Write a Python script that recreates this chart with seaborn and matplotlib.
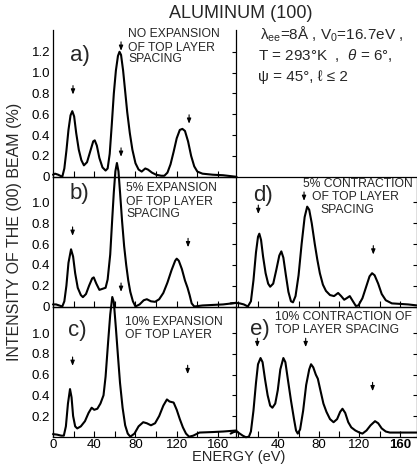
import numpy as np
import matplotlib
matplotlib.use("Agg")
import matplotlib.pyplot as plt
import seaborn as sns

sns.set_style("ticks")
plt.rcParams["font.family"] = ["Liberation Sans", "DejaVu Sans"]
plt.rcParams["mathtext.fontset"] = "custom"
plt.rcParams["mathtext.rm"] = "Liberation Sans"
plt.rcParams["mathtext.it"] = "Liberation Sans:italic"

# ---- (00) beam intensity curves, energy in eV, intensity in % ----
energy_a = [0, 2, 5, 9, 11, 13, 15, 17, 18.7, 20.5, 22.5, 25, 27.5, 30, 33, 36, 39, 40.5,
            42.5, 45, 48, 51, 53, 55, 57, 59, 61, 63, 64.5, 66, 68, 70, 72, 74.5, 77, 80,
            83, 86, 89.5, 92, 96, 100, 105, 108, 111, 114, 117, 120, 123, 125.5, 128, 131,
            134, 137, 140, 145, 155, 165, 178]
intensity_a = [0.02, 0.03, 0.02, 0.0, 0.08, 0.25, 0.45, 0.59, 0.63, 0.58, 0.42, 0.26, 0.16,
               0.11, 0.14, 0.24, 0.34, 0.35, 0.30, 0.18, 0.09, 0.06, 0.08, 0.22, 0.50, 0.80,
               1.02, 1.16, 1.20, 1.17, 1.02, 0.82, 0.62, 0.42, 0.26, 0.13, 0.07, 0.05, 0.08,
               0.07, 0.04, 0.02, 0.01, 0.01, 0.04, 0.12, 0.24, 0.37, 0.45, 0.46, 0.44, 0.34,
               0.20, 0.10, 0.05, 0.03, 0.02, 0.015, 0.0]

energy_b = [0, 3, 6, 9, 11, 13, 15, 17.5, 19.5, 21.5, 24, 27, 29, 32, 35, 38, 39.5, 42, 45,
            48, 51, 53, 55.5, 57.5, 59, 60.5, 62, 63.5, 65, 67, 69, 71, 73, 75, 77.5, 80, 84,
            88, 91, 95, 99, 103, 107, 111, 115, 118.5, 120, 122, 125, 128, 130.5, 132.5,
            134.5, 137, 145, 155, 165, 178]
intensity_b = [0.02, 0.02, 0.01, 0.0, 0.05, 0.20, 0.42, 0.55, 0.48, 0.32, 0.18, 0.11, 0.09,
               0.12, 0.20, 0.27, 0.28, 0.22, 0.16, 0.17, 0.18, 0.26, 0.50, 0.85, 1.10, 1.30,
               1.38, 1.30, 1.10, 0.82, 0.58, 0.40, 0.25, 0.14, 0.05, 0.0, 0.02, 0.06, 0.07,
               0.05, 0.045, 0.07, 0.13, 0.23, 0.35, 0.44, 0.46, 0.44, 0.36, 0.25, 0.18, 0.11,
               0.03, 0.0, 0.01, 0.015, 0.02, 0.035]

energy_c = [0, 4, 8, 10.5, 12.5, 14.5, 16.5, 18, 19.5, 21.5, 23.5, 27, 31, 34.5, 37.5, 40,
            43, 46, 49, 51, 53.5, 55.5, 57.5, 59, 61, 63, 65, 67.5, 70, 72.5, 75, 79, 83,
            87.5, 91, 95, 99, 103, 107, 110.5, 113, 117, 120, 123, 126, 129, 132, 136, 142,
            155, 165, 178]
intensity_c = [0.025, 0.02, 0.01, 0.01, 0.10, 0.32, 0.46, 0.38, 0.20, 0.10, 0.08, 0.10, 0.15,
               0.23, 0.28, 0.26, 0.27, 0.32, 0.40, 0.58, 0.92, 1.18, 1.35, 1.30, 1.05, 0.78,
               0.52, 0.28, 0.11, 0.03, 0.0, 0.03, 0.10, 0.14, 0.13, 0.11, 0.13, 0.20, 0.30,
               0.36, 0.34, 0.33, 0.26, 0.17, 0.09, 0.03, 0.0, 0.01, 0.04, 0.045, 0.05, 0.06]

energy_d = [-7, -2, 2, 6, 10, 13, 15.5, 18, 20, 21.3, 23, 25, 27.5, 30, 32, 35, 38, 41, 43,
            45, 47.5, 50, 52.5, 54.5, 57, 60, 63, 66, 68.5, 70.5, 73, 76, 78.5, 81, 84, 87,
            91, 95, 99, 102, 105, 107.5, 110.5, 113, 116.5, 119, 123, 127, 130, 132.5, 135,
            138.5, 142, 146, 152, 160, 168, 177]
intensity_d = [0.03, 0.035, 0.03, 0.02, 0.0, 0.05, 0.25, 0.52, 0.67, 0.70, 0.64, 0.48, 0.32,
               0.22, 0.19, 0.22, 0.35, 0.49, 0.53, 0.47, 0.30, 0.14, 0.05, 0.04, 0.10, 0.30,
               0.60, 0.86, 0.96, 0.93, 0.80, 0.60, 0.45, 0.32, 0.21, 0.15, 0.11, 0.10, 0.13,
               0.10, 0.065, 0.08, 0.10, 0.06, 0.005, 0.01, 0.08, 0.20, 0.29, 0.32, 0.30, 0.22,
               0.12, 0.06, 0.03, 0.025, 0.02, 0.01]

energy_e = [-7, -4, -1, 2, 5, 8, 11, 13, 15.5, 18, 20, 22.5, 24.5, 27, 29.5, 32, 34.2, 37,
            39.5, 42, 45, 47, 49.5, 52.5, 55.5, 57.5, 59.2, 61.5, 64.5, 67.5, 70.5, 72.3,
            74.5, 77, 79, 81.5, 84.5, 87.5, 91, 94.5, 98, 101, 103.3, 106, 109, 112, 116,
            120, 123, 127, 131, 135.4, 138.5, 142, 146, 150, 160, 170, 177]
intensity_e = [0.03, 0.045, 0.05, 0.03, 0.01, -0.005, 0.0, 0.05, 0.25, 0.52, 0.70, 0.76, 0.72,
               0.55, 0.40, 0.30, 0.28, 0.32, 0.45, 0.65, 0.76, 0.72, 0.55, 0.35, 0.17, 0.06,
               0.03, 0.07, 0.25, 0.50, 0.65, 0.70, 0.67, 0.60, 0.56, 0.45, 0.32, 0.24, 0.17,
               0.14, 0.17, 0.24, 0.27, 0.23, 0.14, 0.09, 0.06, 0.04, 0.03, 0.06, 0.11, 0.15,
               0.13, 0.08, 0.05, 0.04, 0.04, 0.04, 0.04]

# Bragg-peak markers (energy, intensity where the arrow is centred)
arrows_a = ([19.4, 66, 132], [0.83, 1.25, 0.55])
arrows_b = ([19, 66, 131], [0.72, 1.48, 0.61])
arrows_c = ([19, 66, 130.6], [0.725, 1.44, 0.645])
arrows_d = ([20.3, 65.4, 133.7], [0.93, 1.056, 0.54])
arrows_e = ([19.3, 67, 133], [0.906, 0.906, 0.48])

panel_letters = ["a)", "b)", "c)", "d)", "e)"]
captions_a = ["NO EXPANSION", "OF TOP LAYER", "SPACING"]
captions_b = ["5% EXPANSION", "OF TOP LAYER", "SPACING"]
captions_c = ["10% EXPANSION", "OF TOP LAYER"]
captions_d = ["5% CONTRACTION", "OF TOP LAYER", "SPACING"]
captions_e = ["10% CONTRACTION OF", "TOP LAYER SPACING"]

x_ticks = [0, 20, 40, 60, 80, 100, 120, 140, 160]
y_ticks = [0, 0.2, 0.4, 0.6, 0.8, 1.0, 1.2]

W, H = 417, 468
fig = plt.figure(figsize=(W / 100, H / 100), dpi=100)


def rect(x0, x1, ytop, ybot):
    return [x0 / W, 1 - ybot / H, (x1 - x0) / W, (ybot - ytop) / H]


LEFT = (53, 236)
RIGHT = (236, 416.5)
ROW_A = (30, 176.8)
ROW_B = (176.8, 306.5)
ROW_C = (306.5, 436.7)

panels = [
    dict(E=energy_a, I=intensity_a, arrows=arrows_a, box=rect(*LEFT, *ROW_A),
         xlim=(0, 177.5), ylim=(0, 1.409), ylab=[0, 0.2, 0.4, 0.6, 0.8, 1.0, 1.2],
         yt=y_ticks, left=True, xlabels=False, top=False,
         letter=(16.5, 1.169), cap=captions_a,
         cap_pos=[(72.7, 1.37), (72.7, 1.24), (72.7, 1.13)]),
    dict(E=energy_b, I=intensity_b, arrows=arrows_b, box=rect(*LEFT, *ROW_B),
         xlim=(0, 177.5), ylim=(0, 1.247), ylab=[0, 0.2, 0.4, 0.6, 0.8, 1.0],
         yt=y_ticks[:6], left=True, xlabels=False, top=True,
         letter=(16.5, 1.09), cap=captions_b,
         cap_pos=[(70.8, 1.14), (70.8, 1.005), (70.8, 0.894)]),
    dict(E=energy_c, I=intensity_c, arrows=arrows_c, box=rect(*LEFT, *ROW_C),
         xlim=(0, 177.5), ylim=(0, 1.258), ylab=[0.2, 0.4, 0.6, 0.8, 1.0],
         yt=y_ticks[:6], left=True, xlabels=True, top=True,
         letter=(14.5, 1.03), cap=captions_c,
         cap_pos=[(69.8, 1.108), (69.8, 0.985)]),
    dict(E=energy_d, I=intensity_d, arrows=arrows_d, box=rect(*RIGHT, *ROW_B),
         xlim=(-1.7, 176.3), ylim=(0, 1.247), ylab=[],
         yt=y_ticks[:6], left=False, xlabels=False, top=True,
         letter=(15.1, 1.063), cap=captions_d,
         cap_pos=[(64.4, 1.179), (73.3, 1.052), (81.2, 0.932)]),
    dict(E=energy_e, I=intensity_e, arrows=arrows_e, box=rect(*RIGHT, *ROW_C),
         xlim=(-1.7, 176.3), ylim=(0, 1.258), ylab=[],
         yt=y_ticks[:6], left=False, xlabels=True, top=True,
         letter=(12.1, 1.04), cap=captions_e,
         cap_pos=[(36.8, 1.154), (36.8, 1.03)]),
]

for p, letter in zip(panels, panel_letters):
    ax = fig.add_axes(p["box"])
    ax.set_facecolor("none")
    sns.lineplot(x=p["E"], y=p["I"], ax=ax, color="black", linewidth=1.5,
                 sort=False, estimator=None, clip_on=False, zorder=5)
    ax.set_xlim(*p["xlim"])
    ax.set_ylim(*p["ylim"])
    ax.set_xlabel("")
    ax.set_ylabel("")

    for s in ax.spines.values():
        s.set_linewidth(0.9)
        s.set_color("black")
    ax.spines["top"].set_visible(p["top"])
    ax.spines["left"].set_visible(p["left"])

    # x axis: ticks every 20 eV, labels every 40 eV
    ax.set_xticks(x_ticks)
    if p["xlabels"]:
        labs = []
        for t in x_ticks:
            if t % 40 == 0 and (p["left"] or t > 0):
                labs.append(str(t))
            else:
                labs.append("")
        ax.set_xticklabels(labs)
    else:
        ax.set_xticklabels([""] * len(x_ticks))
    ax.tick_params(axis="x", direction="in", length=4, width=0.8, pad=2,
                   labelsize=9.5, colors="black")
    if not p["left"] and p["xlabels"]:
        for lab in ax.get_xticklabels():
            if lab.get_text() == "160":
                lab.set_fontweight("bold")

    # y axis: labels on the left column only, short inward ticks on the right spine
    ax.set_yticks(p["yt"])
    if p["left"]:
        ax.set_yticklabels([("0" if t == 0 else f"{t:.1f}") if t in p["ylab"] else ""
                            for t in p["yt"]])
    else:
        ax.set_yticklabels([""] * len(p["yt"]))
    ax.tick_params(axis="y", left=False, right=True, direction="in", length=3,
                   width=0.8, pad=2, labelsize=9.5, colors="black")

    # peak markers
    for e, v in zip(*p["arrows"]):
        ax.annotate("", xy=(e, v - 0.04), xytext=(e, v + 0.045),
                    arrowprops=dict(arrowstyle="-|>,head_length=0.3,head_width=0.12",
                                    color="black", lw=0.8, shrinkA=0, shrinkB=0),
                    annotation_clip=False, zorder=6)

    ax.text(p["letter"][0], p["letter"][1], letter, fontsize=16, ha="left",
            va="center", clip_on=False)
    for line, (cx, cy) in zip(p["cap"], p["cap_pos"]):
        ax.text(cx, cy, line, fontsize=8.7, ha="left", va="center", clip_on=False)

fig.text(241 / W, 1 - 14 / H, "ALUMINUM (100)", ha="center", va="center", fontsize=13)
fig.text(15 / W, 1 - 232 / H, "INTENSITY OF THE (00) BEAM (%)", rotation=90,
         ha="center", va="center", fontsize=11.5)
fig.text(239 / W, 1 - 457 / H, "ENERGY (eV)", ha="center", va="center", fontsize=10.5)

fig.text(260 / W, 1 - 34 / H, r"λ$_{\rm ee}$=8Å , V$_0$=16.7eV ,",
         ha="left", va="center", fontsize=11)
fig.text(258 / W, 1 - 56 / H, r"T = 293°K  ,  $\theta$ = 6°,",
         ha="left", va="center", fontsize=11)
fig.text(258 / W, 1 - 77 / H, "ψ = 45°, ℓ ≤ 2",
         ha="left", va="center", fontsize=11)

fig.savefig("out.png", dpi=100)
